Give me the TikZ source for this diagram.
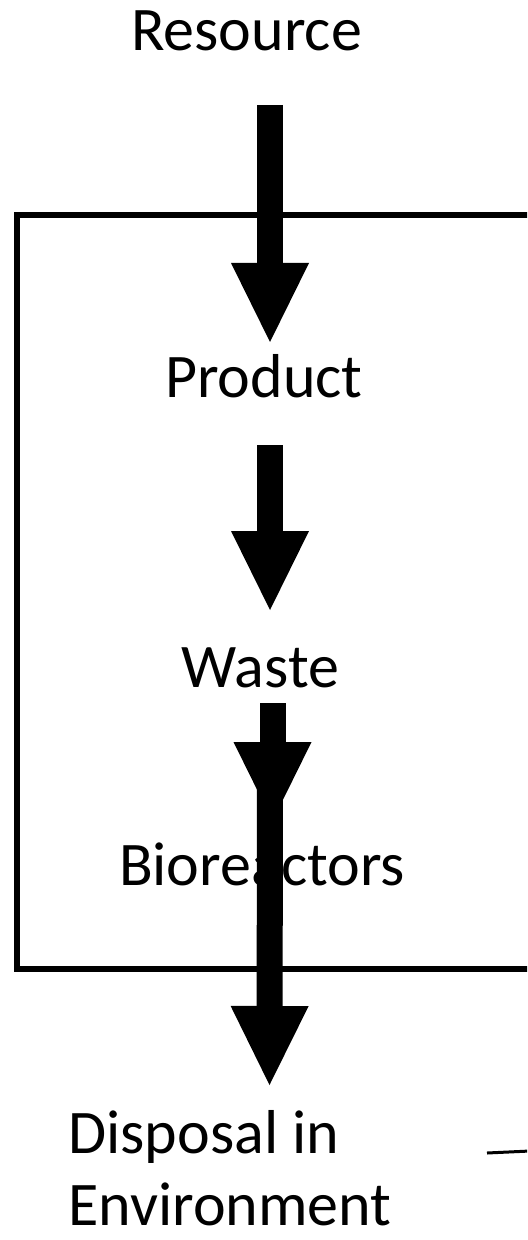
\documentclass[tikz,border=0pt]{standalone}
\usepackage{fontspec}
\setmainfont{Carlito}
\usetikzlibrary{arrows.meta}

\begin{document}
\begin{tikzpicture}[x=0.5pt, y=-0.5pt,
  lbl/.style={inner sep=0pt, font=\fontsize{31}{36}\selectfont},
  flow/.style={line width=13pt,
    -{Triangle[width=39pt, length=39.5pt, line width=0pt]}}]
\useasboundingbox (0,0) rectangle (527,1240);
\clip (0,0) rectangle (527,1240);
% ---------------- system boundary ----------------
\draw[line width=3pt] (16.5,215) rectangle (600,969);
% ---------------- labels ----------------
\node[lbl, anchor=base] (res) at (246.5,51) {Resource};
\node[lbl, anchor=base] (prod) at (264,398) {Product};
\node[lbl, anchor=base] (waste) at (260.5,687) {Waste};
\node[lbl, anchor=base] (bio) at (262,885) {Bioreactors};
\node[lbl, anchor=base west] (disp) at (68,1153) {Disposal in};
\node[lbl, anchor=base west] (env) at (68,1225) {Environment};
% ---------------- flow arrows ----------------
\coordinate (resOut) at (270,105);   \coordinate (prodIn) at (270,342);
\coordinate (prodOut) at (270,445);  \coordinate (wasteIn) at (270,610);
\coordinate (wasteOut) at (272.5,703); \coordinate (bioIn) at (272.5,821);
\coordinate (bioOut) at (270,760);   \coordinate (dispIn) at (269.5,1085);
\draw[flow] (resOut) -- (prodIn);
\draw[flow] (prodOut) -- (wasteIn);
\draw[flow] (wasteOut) -- (bioIn);
\draw[flow] (bioOut) -- (dispIn);
% stray stub
\coordinate (stubA) at (487,1153); \coordinate (stubB) at (530,1151);
\draw[line width=1.5pt] (stubA) -- (stubB);
\end{tikzpicture}
\end{document}
